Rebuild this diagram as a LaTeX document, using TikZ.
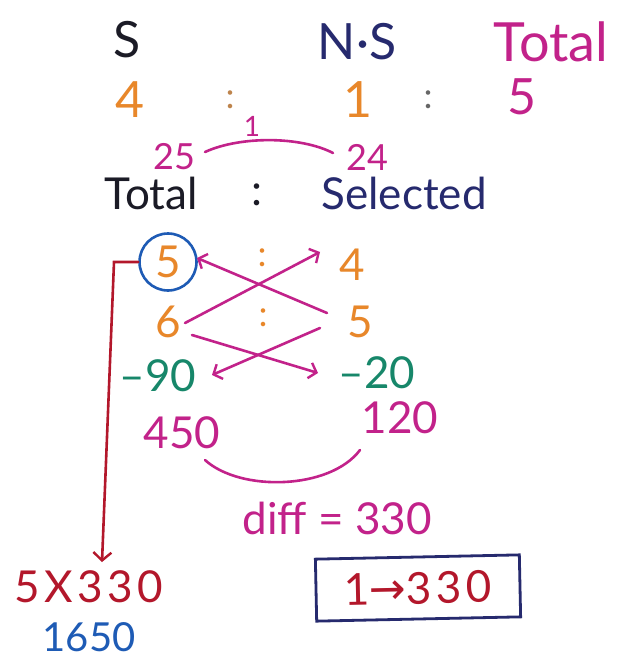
\documentclass[tikz,border=0pt]{standalone}
\usepackage{fontspec}
\setmainfont{Lato}
\newfontfamily\symf{DejaVu Sans}
\newfontfamily\widefont[LetterSpace=10]{Lato}
\usetikzlibrary{arrows.meta,calc}
\definecolor{ink}{HTML}{1B1B26}
\definecolor{navy}{HTML}{262A6E}
\definecolor{mag}{HTML}{C2228A}
\definecolor{org}{HTML}{E8872A}
\definecolor{grn}{HTML}{17876A}
\definecolor{rd}{HTML}{B3172B}
\definecolor{blu}{HTML}{1E5BB5}
\tikzset{
 txt/.style={inner sep=0pt, font=\fontsize{44}{48}\selectfont},
 bigtxt/.style={inner sep=0pt, font=\fontsize{50}{54}\selectfont},
 smalltxt/.style={inner sep=0pt, font=\fontsize{36}{40}\selectfont},
 tinytxt/.style={inner sep=0pt, font=\fontsize{28}{32}\selectfont},
 magline/.style={draw=mag, line width=2.6pt, line cap=round},
 magarr/.style={magline, -{Straight Barb[length=7pt,width=16pt,line width=2.4pt]}},
 redarr/.style={draw=rd, line width=2.6pt, line cap=round, -{Straight Barb[length=8pt,width=18pt,line width=2.4pt]}},
}
\begin{document}
\begin{tikzpicture}[x=1pt,y=-1pt]
\fill[white] (0,0) rectangle (621,663);
\useasboundingbox (0,0) rectangle (621,663);
% header row
\node[bigtxt, text=ink] (hS) at (127,40) {S};
\node[bigtxt, text=navy] (hNS) at (357,42) {N·S};
\node[inner sep=0pt, font=\fontsize{54}{58}\selectfont, text=mag] (hTot) at (551,42) {Total};
% ratio row
\node[bigtxt, text=org] (r4) at (130,100) {4};
\node[smalltxt, text=org!60!gray] (rc1) at (230,100) {:};
\node[bigtxt, text=org] (r1) at (358,100) {1};
\node[smalltxt, text=gray!80!black] (rc2) at (428,100) {:};
\node[bigtxt, text=mag] (r5) at (522,97) {5};
% 25 - 24
\node[tinytxt, text=mag] (one) at (252,126) {1};
\node[smalltxt, text=mag] (a25) at (174,157) {25};
\node[smalltxt, text=mag] (a24) at (367,157) {24};
\draw[magline] ($(a25)+(31,-5)$) .. controls (240,136) and (300,136) .. ($(a24)+(-34,-4)$);
% Total : Selected
\node[txt, text=ink] (tT) at (151,193) {Total};
\node[txt, text=ink] (tc) at (257,195) {:};
\node[txt, text=navy] (tS) at (404,193) {Selected};
% alligation
\node[txt, text=org, circle, draw=blu, line width=2.6pt, minimum size=57pt, inner sep=0pt] (c5) at (168,262) {5};
\node[smalltxt, text=org] (mc1) at (262,258) {:};
\node[txt, text=org] (n4) at (352,265) {4};
\node[txt, text=org] (n6) at (168,322) {6};
\node[smalltxt, text=org] (mc2) at (263,318) {:};
\node[txt, text=org] (n5) at (360,322) {5};
\node[txt, text=grn] (m90) at (158,376) {–90};
\node[txt, text=grn] (m20) at (377,373) {–20};
\node[txt, text=mag] (n450) at (182,433) {450};
\node[txt, text=mag] (n120) at (400,418) {120};
\draw[magarr] ($(n5)+(-33,-9)$) -- ($(c5)+(29,-4)$);
\draw[magarr] ($(n6)+(17,1)$) -- ($(n4)+(-32,-13)$);
\draw[magarr] ($(n6)+(24,13)$) -- ($(m20)+(-59,0)$);
\draw[magarr] ($(n5)+(-40,6)$) -- ($(m90)+(54,-1)$);
% difference arc
\draw[magline] ($(n450)+(23,27)$) .. controls (240,492) and (330,490) .. ($(n120)+(-40,32)$);
\node[txt, text=mag] (diff) at (337,518) {diff = 330};
% red arrow and product
\node[txt, text=rd] (prod) at (89,587) {\widefont 5X330};
\node[inner sep=0pt, font=\fontsize{40}{44}\selectfont, text=blu] (res) at (89,637) {1650};
\coordinate (rtop) at (114,262);
\coordinate (rbot) at (102,562);
\draw[redarr] (c5.west) -- (rtop) -- (rbot);
% answer box
\node[txt, text=rd, draw=navy, line width=2.8pt, minimum width=204pt, minimum height=62pt, rotate=1.2] (ans) at (418,588) {\widefont 1{\symf →}330};
\end{tikzpicture}
\end{document}
